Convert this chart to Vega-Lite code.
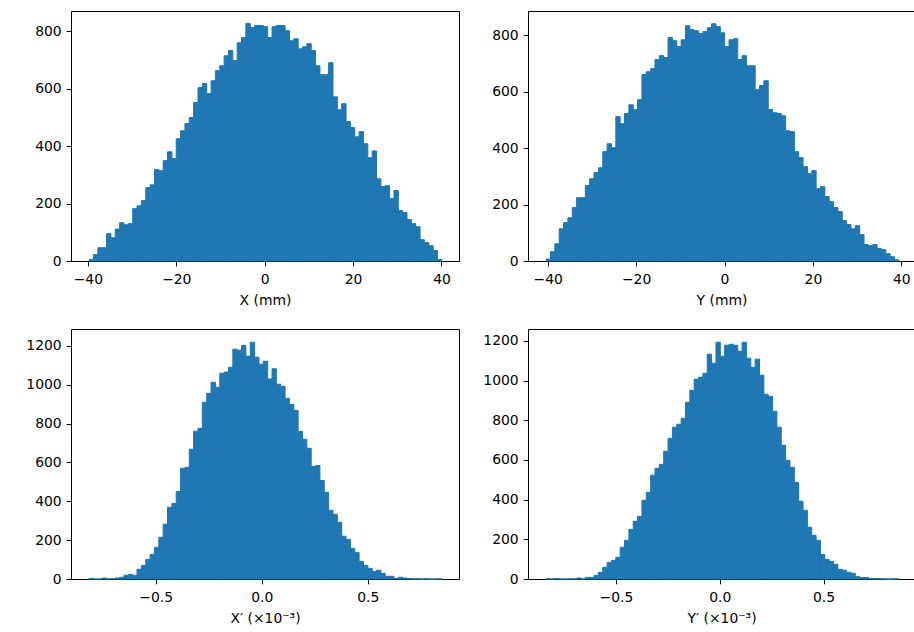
{
  "$schema": "https://vega.github.io/schema/vega-lite/v6.json",
  "autosize": {"type": "pad"},
  "padding": {"left": 25, "top": 10, "right": 0, "bottom": 2},
  "background": "white",
  "columns": 2,
  "spacing": {"row": 68, "column": 69},
  "bounds": "flush",
  "datasets": {
    "p1": [
      {"a":-39.83,"b":-38.845,"c":5},{"a":-38.845,"b":-37.86,"c":22},{"a":-37.86,"b":-36.874,"c":46},{"a":-36.874,"b":-35.889,"c":46},{"a":-35.889,"b":-34.904,"c":95},{"a":-34.904,"b":-33.919,"c":81},{"a":-33.919,"b":-32.934,"c":111},{"a":-32.934,"b":-31.948,"c":133},{"a":-31.948,"b":-30.963,"c":126},{"a":-30.963,"b":-29.978,"c":130},
      {"a":-29.978,"b":-28.993,"c":182},{"a":-28.993,"b":-28.008,"c":192},{"a":-28.008,"b":-27.022,"c":210},{"a":-27.022,"b":-26.037,"c":255},{"a":-26.037,"b":-25.052,"c":265},{"a":-25.052,"b":-24.067,"c":318},{"a":-24.067,"b":-23.082,"c":314},{"a":-23.082,"b":-22.097,"c":349},{"a":-22.097,"b":-21.111,"c":380},{"a":-21.111,"b":-20.126,"c":356},
      {"a":-20.126,"b":-19.141,"c":425},{"a":-19.141,"b":-18.156,"c":453},{"a":-18.156,"b":-17.171,"c":478},{"a":-17.171,"b":-16.185,"c":499},{"a":-16.185,"b":-15.2,"c":551},{"a":-15.2,"b":-14.215,"c":603},{"a":-14.215,"b":-13.23,"c":617},{"a":-13.23,"b":-12.245,"c":582},{"a":-12.245,"b":-11.259,"c":627},{"a":-11.259,"b":-10.274,"c":662},
      {"a":-10.274,"b":-9.289,"c":679},{"a":-9.289,"b":-8.304,"c":714},{"a":-8.304,"b":-7.319,"c":732},{"a":-7.319,"b":-6.334,"c":697},{"a":-6.334,"b":-5.348,"c":759},{"a":-5.348,"b":-4.363,"c":777},{"a":-4.363,"b":-3.378,"c":826},{"a":-3.378,"b":-2.393,"c":812},{"a":-2.393,"b":-1.408,"c":819},{"a":-1.408,"b":-0.422,"c":819},
      {"a":-0.422,"b":0.563,"c":815},{"a":0.563,"b":1.548,"c":777},{"a":1.548,"b":2.533,"c":815},{"a":2.533,"b":3.518,"c":819},{"a":3.518,"b":4.504,"c":819},{"a":4.504,"b":5.489,"c":801},{"a":5.489,"b":6.474,"c":766},{"a":6.474,"b":7.459,"c":773},{"a":7.459,"b":8.444,"c":738},{"a":8.444,"b":9.43,"c":745},
      {"a":9.43,"b":10.415,"c":756},{"a":10.415,"b":11.4,"c":732},{"a":11.4,"b":12.385,"c":679},{"a":12.385,"b":13.37,"c":648},{"a":13.37,"b":14.355,"c":648},{"a":14.355,"b":15.341,"c":690},{"a":15.341,"b":16.326,"c":571},{"a":16.326,"b":17.311,"c":526},{"a":17.311,"b":18.296,"c":547},{"a":18.296,"b":19.281,"c":485},
      {"a":19.281,"b":20.267,"c":464},{"a":20.267,"b":21.252,"c":432},{"a":21.252,"b":22.237,"c":450},{"a":22.237,"b":23.222,"c":408},{"a":23.222,"b":24.207,"c":359},{"a":24.207,"b":25.193,"c":383},{"a":25.193,"b":26.178,"c":286},{"a":26.178,"b":27.163,"c":259},{"a":27.163,"b":28.148,"c":262},{"a":28.148,"b":29.133,"c":217},
      {"a":29.133,"b":30.118,"c":245},{"a":30.118,"b":31.104,"c":175},{"a":31.104,"b":32.089,"c":168},{"a":32.089,"b":33.074,"c":144},{"a":33.074,"b":34.059,"c":130},{"a":34.059,"b":35.044,"c":119},{"a":35.044,"b":36.03,"c":74},{"a":36.03,"b":37.015,"c":64},{"a":37.015,"b":38.0,"c":53},{"a":38.0,"b":38.985,"c":36},
      {"a":38.985,"b":39.97,"c":5}
    ],
    "p2": [
      {"a":-40.47,"b":-39.485,"c":7},{"a":-39.485,"b":-38.499,"c":33},{"a":-38.499,"b":-37.514,"c":61},{"a":-37.514,"b":-36.529,"c":114},{"a":-36.529,"b":-35.543,"c":136},{"a":-35.543,"b":-34.558,"c":153},{"a":-34.558,"b":-33.573,"c":189},{"a":-33.573,"b":-32.588,"c":224},{"a":-32.588,"b":-31.602,"c":224},{"a":-31.602,"b":-30.617,"c":267},
      {"a":-30.617,"b":-29.632,"c":291},{"a":-29.632,"b":-28.646,"c":313},{"a":-28.646,"b":-27.661,"c":330},{"a":-27.661,"b":-26.676,"c":387},{"a":-26.676,"b":-25.69,"c":415},{"a":-25.69,"b":-24.705,"c":401},{"a":-24.705,"b":-23.72,"c":511},{"a":-23.72,"b":-22.734,"c":486},{"a":-22.734,"b":-21.749,"c":522},{"a":-21.749,"b":-20.764,"c":553},
      {"a":-20.764,"b":-19.778,"c":536},{"a":-19.778,"b":-18.793,"c":571},{"a":-18.793,"b":-17.808,"c":660},{"a":-17.808,"b":-16.823,"c":670},{"a":-16.823,"b":-15.837,"c":681},{"a":-15.837,"b":-14.852,"c":713},{"a":-14.852,"b":-13.867,"c":727},{"a":-13.867,"b":-12.881,"c":720},{"a":-12.881,"b":-11.896,"c":791},{"a":-11.896,"b":-10.911,"c":780},
      {"a":-10.911,"b":-9.925,"c":759},{"a":-9.925,"b":-8.94,"c":783},{"a":-8.94,"b":-7.955,"c":833},{"a":-7.955,"b":-6.969,"c":819},{"a":-6.969,"b":-5.984,"c":815},{"a":-5.984,"b":-4.999,"c":805},{"a":-4.999,"b":-4.013,"c":812},{"a":-4.013,"b":-3.028,"c":826},{"a":-3.028,"b":-2.043,"c":840},{"a":-2.043,"b":-1.058,"c":830},
      {"a":-1.058,"b":-0.072,"c":808},{"a":-0.072,"b":0.913,"c":759},{"a":0.913,"b":1.898,"c":783},{"a":1.898,"b":2.884,"c":787},{"a":2.884,"b":3.869,"c":713},{"a":3.869,"b":4.854,"c":727},{"a":4.854,"b":5.84,"c":691},{"a":5.84,"b":6.825,"c":691},{"a":6.825,"b":7.81,"c":606},{"a":7.81,"b":8.796,"c":621},
      {"a":8.796,"b":9.781,"c":638},{"a":9.781,"b":10.766,"c":536},{"a":10.766,"b":11.751,"c":525},{"a":11.751,"b":12.737,"c":522},{"a":12.737,"b":13.722,"c":514},{"a":13.722,"b":14.707,"c":461},{"a":14.707,"b":15.693,"c":458},{"a":15.693,"b":16.678,"c":387},{"a":16.678,"b":17.663,"c":366},{"a":17.663,"b":18.649,"c":334},
      {"a":18.649,"b":19.634,"c":309},{"a":19.634,"b":20.619,"c":320},{"a":20.619,"b":21.605,"c":256},{"a":21.605,"b":22.59,"c":263},{"a":22.59,"b":23.575,"c":228},{"a":23.575,"b":24.561,"c":210},{"a":24.561,"b":25.546,"c":189},{"a":25.546,"b":26.531,"c":175},{"a":26.531,"b":27.516,"c":143},{"a":27.516,"b":28.502,"c":129},
      {"a":28.502,"b":29.487,"c":114},{"a":29.487,"b":30.472,"c":125},{"a":30.472,"b":31.458,"c":93},{"a":31.458,"b":32.443,"c":58},{"a":32.443,"b":33.428,"c":54},{"a":33.428,"b":34.414,"c":58},{"a":34.414,"b":35.399,"c":44},{"a":35.399,"b":36.384,"c":40},{"a":36.384,"b":37.37,"c":26},{"a":37.37,"b":38.355,"c":15},
      {"a":38.355,"b":39.34,"c":4}
    ],
    "p3": [
      {"a":-0.8163,"b":-0.7958,"c":3},{"a":-0.7958,"b":-0.7752,"c":0},{"a":-0.7752,"b":-0.7547,"c":0},{"a":-0.7547,"b":-0.7342,"c":5},{"a":-0.7342,"b":-0.7136,"c":1},{"a":-0.7136,"b":-0.6931,"c":2},{"a":-0.6931,"b":-0.6726,"c":5},{"a":-0.6726,"b":-0.6521,"c":9},{"a":-0.6521,"b":-0.6315,"c":19},{"a":-0.6315,"b":-0.611,"c":24},
      {"a":-0.611,"b":-0.5905,"c":19},{"a":-0.5905,"b":-0.5699,"c":50},{"a":-0.5699,"b":-0.5494,"c":70},{"a":-0.5494,"b":-0.5289,"c":101},{"a":-0.5289,"b":-0.5083,"c":127},{"a":-0.5083,"b":-0.4878,"c":163},{"a":-0.4878,"b":-0.4673,"c":215},{"a":-0.4673,"b":-0.4467,"c":282},{"a":-0.4467,"b":-0.4262,"c":369},{"a":-0.4262,"b":-0.4057,"c":389},
      {"a":-0.4057,"b":-0.3851,"c":451},{"a":-0.3851,"b":-0.3646,"c":570},{"a":-0.3646,"b":-0.3441,"c":575},{"a":-0.3441,"b":-0.3236,"c":668},{"a":-0.3236,"b":-0.303,"c":761},{"a":-0.303,"b":-0.2825,"c":776},{"a":-0.2825,"b":-0.262,"c":910},{"a":-0.262,"b":-0.2414,"c":956},{"a":-0.2414,"b":-0.2209,"c":1013},{"a":-0.2209,"b":-0.2004,"c":987},
      {"a":-0.2004,"b":-0.1798,"c":1059},{"a":-0.1798,"b":-0.1593,"c":1065},{"a":-0.1593,"b":-0.1388,"c":1090},{"a":-0.1388,"b":-0.1182,"c":1183},{"a":-0.1182,"b":-0.0977,"c":1178},{"a":-0.0977,"b":-0.0772,"c":1203},{"a":-0.0772,"b":-0.0566,"c":1147},{"a":-0.0566,"b":-0.0361,"c":1219},{"a":-0.0361,"b":-0.0156,"c":1142},{"a":-0.0156,"b":0.005,"c":1106},
      {"a":0.005,"b":0.0255,"c":1121},{"a":0.0255,"b":0.046,"c":1030},{"a":0.046,"b":0.0665,"c":1082},{"a":0.0665,"b":0.0871,"c":1003},{"a":0.0871,"b":0.1076,"c":992},{"a":0.1076,"b":0.1281,"c":930},{"a":0.1281,"b":0.1487,"c":899},{"a":0.1487,"b":0.1692,"c":868},{"a":0.1692,"b":0.1897,"c":760},{"a":0.1897,"b":0.2103,"c":719},
      {"a":0.2103,"b":0.2308,"c":673},{"a":0.2308,"b":0.2513,"c":579},{"a":0.2513,"b":0.2719,"c":584},{"a":0.2719,"b":0.2924,"c":507},{"a":0.2924,"b":0.3129,"c":446},{"a":0.3129,"b":0.3335,"c":354},{"a":0.3335,"b":0.354,"c":333},{"a":0.354,"b":0.3745,"c":292},{"a":0.3745,"b":0.3951,"c":220},{"a":0.3951,"b":0.4156,"c":204},
      {"a":0.4156,"b":0.4361,"c":158},{"a":0.4361,"b":0.4566,"c":137},{"a":0.4566,"b":0.4772,"c":91},{"a":0.4772,"b":0.4977,"c":70},{"a":0.4977,"b":0.5182,"c":55},{"a":0.5182,"b":0.5388,"c":39},{"a":0.5388,"b":0.5593,"c":45},{"a":0.5593,"b":0.5798,"c":29},{"a":0.5798,"b":0.6004,"c":14},{"a":0.6004,"b":0.6209,"c":14},
      {"a":0.6209,"b":0.6414,"c":3},{"a":0.6414,"b":0.662,"c":9},{"a":0.662,"b":0.6825,"c":5},{"a":0.6825,"b":0.703,"c":2},{"a":0.703,"b":0.7236,"c":1},{"a":0.7236,"b":0.7441,"c":1},{"a":0.7441,"b":0.7646,"c":0},{"a":0.7646,"b":0.7852,"c":1},{"a":0.7852,"b":0.8057,"c":0},{"a":0.8057,"b":0.8262,"c":0},
      {"a":0.8262,"b":0.8467,"c":1}
    ],
    "p4": [
      {"a":-0.838,"b":-0.817,"c":1},{"a":-0.817,"b":-0.7961,"c":0},{"a":-0.7961,"b":-0.7751,"c":2},{"a":-0.7751,"b":-0.7541,"c":0},{"a":-0.7541,"b":-0.7332,"c":0},{"a":-0.7332,"b":-0.7122,"c":1},{"a":-0.7122,"b":-0.6913,"c":1},{"a":-0.6913,"b":-0.6703,"c":5},{"a":-0.6703,"b":-0.6493,"c":1},{"a":-0.6493,"b":-0.6284,"c":8},
      {"a":-0.6284,"b":-0.6074,"c":8},{"a":-0.6074,"b":-0.5864,"c":18},{"a":-0.5864,"b":-0.5655,"c":34},{"a":-0.5655,"b":-0.5445,"c":59},{"a":-0.5445,"b":-0.5236,"c":84},{"a":-0.5236,"b":-0.5026,"c":94},{"a":-0.5026,"b":-0.4816,"c":109},{"a":-0.4816,"b":-0.4607,"c":160},{"a":-0.4607,"b":-0.4397,"c":195},{"a":-0.4397,"b":-0.4187,"c":250},
      {"a":-0.4187,"b":-0.3978,"c":291},{"a":-0.3978,"b":-0.3768,"c":316},{"a":-0.3768,"b":-0.3559,"c":397},{"a":-0.3559,"b":-0.3349,"c":437},{"a":-0.3349,"b":-0.3139,"c":523},{"a":-0.3139,"b":-0.293,"c":558},{"a":-0.293,"b":-0.272,"c":578},{"a":-0.272,"b":-0.251,"c":644},{"a":-0.251,"b":-0.2301,"c":709},{"a":-0.2301,"b":-0.2091,"c":765},
      {"a":-0.2091,"b":-0.1881,"c":780},{"a":-0.1881,"b":-0.1672,"c":810},{"a":-0.1672,"b":-0.1462,"c":891},{"a":-0.1462,"b":-0.1253,"c":951},{"a":-0.1253,"b":-0.1043,"c":1007},{"a":-0.1043,"b":-0.0833,"c":1017},{"a":-0.0833,"b":-0.0624,"c":1037},{"a":-0.0624,"b":-0.0414,"c":1133},{"a":-0.0414,"b":-0.0204,"c":1087},{"a":-0.0204,"b":0.0005,"c":1193},
      {"a":0.0005,"b":0.0215,"c":1123},{"a":0.0215,"b":0.0424,"c":1178},{"a":0.0424,"b":0.0634,"c":1183},{"a":0.0634,"b":0.0844,"c":1178},{"a":0.0844,"b":0.1053,"c":1148},{"a":0.1053,"b":0.1263,"c":1193},{"a":0.1263,"b":0.1473,"c":1113},{"a":0.1473,"b":0.1682,"c":1067},{"a":0.1682,"b":0.1892,"c":1108},{"a":0.1892,"b":0.2102,"c":1027},
      {"a":0.2102,"b":0.2311,"c":931},{"a":0.2311,"b":0.2521,"c":921},{"a":0.2521,"b":0.273,"c":845},{"a":0.273,"b":0.294,"c":765},{"a":0.294,"b":0.315,"c":674},{"a":0.315,"b":0.3359,"c":598},{"a":0.3359,"b":0.3569,"c":563},{"a":0.3569,"b":0.3779,"c":487},{"a":0.3779,"b":0.3988,"c":392},{"a":0.3988,"b":0.4198,"c":346},
      {"a":0.4198,"b":0.4408,"c":261},{"a":0.4408,"b":0.4617,"c":220},{"a":0.4617,"b":0.4827,"c":195},{"a":0.4827,"b":0.5036,"c":124},{"a":0.5036,"b":0.5246,"c":99},{"a":0.5246,"b":0.5456,"c":89},{"a":0.5456,"b":0.5665,"c":74},{"a":0.5665,"b":0.5875,"c":49},{"a":0.5875,"b":0.6085,"c":44},{"a":0.6085,"b":0.6294,"c":34},
      {"a":0.6294,"b":0.6504,"c":29},{"a":0.6504,"b":0.6713,"c":13},{"a":0.6713,"b":0.6923,"c":8},{"a":0.6923,"b":0.7133,"c":8},{"a":0.7133,"b":0.7342,"c":3},{"a":0.7342,"b":0.7552,"c":2},{"a":0.7552,"b":0.7762,"c":2},{"a":0.7762,"b":0.7971,"c":1},{"a":0.7971,"b":0.8181,"c":0},{"a":0.8181,"b":0.839,"c":0},
      {"a":0.839,"b":0.86,"c":1}
    ]
  },
  "concat": [
    {
      "width": 388, "height": 250,
      "data": {"name": "p1"},
      "mark": {"type": "bar", "color": "#1f77b4", "stroke": "#1f77b4", "strokeWidth": 1, "binSpacing": 0},
      "encoding": {
        "x": {"field": "a", "type": "quantitative", "bin": "binned",
          "scale": {"domain": [-43.82, 43.96], "nice": false, "zero": false},
          "axis": {"values": [-40, -20, 0, 20, 40], "labelExpr": "replace(format(datum.value, 'd'), '-', '−')", "title": "X (mm)"}},
        "x2": {"field": "b"},
        "y": {"field": "c", "type": "quantitative",
          "scale": {"domain": [0, 869.6], "nice": false},
          "axis": {"values": [0, 200, 400, 600, 800], "format": "d", "title": null}}
      }
    },
    {
      "width": 387, "height": 250,
      "data": {"name": "p2"},
      "mark": {"type": "bar", "color": "#1f77b4", "stroke": "#1f77b4", "strokeWidth": 1, "binSpacing": 0},
      "encoding": {
        "x": {"field": "a", "type": "quantitative", "bin": "binned",
          "scale": {"domain": [-44.46, 43.1], "nice": false, "zero": false},
          "axis": {"values": [-40, -20, 0, 20, 40], "labelExpr": "replace(format(datum.value, 'd'), '-', '−')", "title": "Y (mm)"}},
        "x2": {"field": "b"},
        "y": {"field": "c", "type": "quantitative",
          "scale": {"domain": [0, 885], "nice": false},
          "axis": {"values": [0, 200, 400, 600, 800], "format": "d", "title": null}}
      }
    },
    {
      "width": 388, "height": 250,
      "data": {"name": "p3"},
      "mark": {"type": "bar", "color": "#1f77b4", "stroke": "#1f77b4", "strokeWidth": 1, "binSpacing": 0},
      "encoding": {
        "x": {"field": "a", "type": "quantitative", "bin": "binned",
          "scale": {"domain": [-0.8995, 0.93], "nice": false, "zero": false},
          "axis": {"values": [-0.5, 0, 0.5], "labelExpr": "replace(format(datum.value, '.1f'), '-', '−')", "title": "X′  (×10⁻³)"}},
        "x2": {"field": "b"},
        "y": {"field": "c", "type": "quantitative",
          "scale": {"domain": [0, 1287], "nice": false},
          "axis": {"values": [0, 200, 400, 600, 800, 1000, 1200], "format": "d", "title": null}}
      }
    },
    {
      "width": 387, "height": 250,
      "data": {"name": "p4"},
      "mark": {"type": "bar", "color": "#1f77b4", "stroke": "#1f77b4", "strokeWidth": 1, "binSpacing": 0},
      "encoding": {
        "x": {"field": "a", "type": "quantitative", "bin": "binned",
          "scale": {"domain": [-0.923, 0.9403], "nice": false, "zero": false},
          "axis": {"values": [-0.5, 0, 0.5], "labelExpr": "replace(format(datum.value, '.1f'), '-', '−')", "title": "Y′  (×10⁻³)"}},
        "x2": {"field": "b"},
        "y": {"field": "c", "type": "quantitative",
          "scale": {"domain": [0, 1260], "nice": false},
          "axis": {"values": [0, 200, 400, 600, 800, 1000, 1200], "format": "d", "title": null}}
      }
    }
  ],
  "config": {
    "font": "DejaVu Sans",
    "view": {"stroke": "#000", "strokeWidth": 1},
    "axis": {
      "grid": false, "domain": false,
      "tickColor": "#000", "tickSize": 4.9, "tickWidth": 1,
      "labelFont": "DejaVu Sans", "labelFontSize": 13.9, "labelColor": "#000", "labelPadding": 4.9,
      "titleFont": "DejaVu Sans", "titleFontSize": 13.9, "titleFontWeight": "normal", "titleColor": "#000", "titlePadding": 5.6
    },
    "axisX": {"labelPadding": 6.5, "titlePadding": 7.5}
  }
}
